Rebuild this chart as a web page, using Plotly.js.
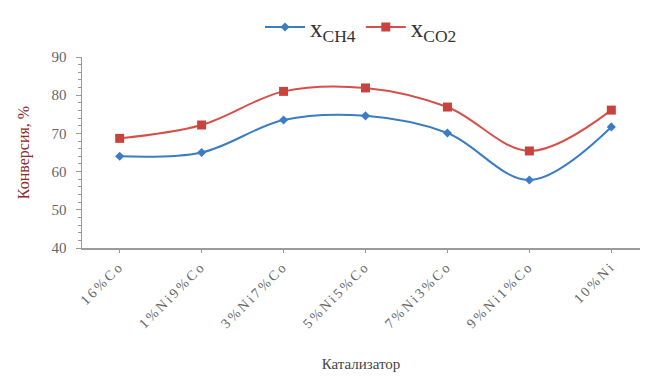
<!DOCTYPE html>
<html><head><meta charset="utf-8">
<script src="https://cdn.plot.ly/plotly-3.0.1.min.js"></script>
<style>html,body{margin:0;padding:0;background:#fff}
#chart .xtick text{letter-spacing:2.5px}</style>
</head><body><div id="chart" style="width:650px;height:377px"></div>
<script>
var categories = ["16%Co","1%Ni9%Co","3%Ni7%Co","5%Ni5%Co","7%Ni3%Co","9%Ni1%Co","10%Ni"];
var xCH4 = [64, 65, 73.5, 74.6, 70.1, 57.8, 71.7];
var xCO2 = [68.7, 72.2, 81, 81.9, 76.9, 65.4, 76.1];
var seriesNames = ["x<sub>CH4</sub>", "x<sub>CO2</sub>"];
var xTitle = "Катализатор";
var yTitle = "Конверсия, %";

var serif = "Liberation Serif, DejaVu Serif, serif";
var traces = [
  {x: categories, y: xCH4, name: seriesNames[0], type: 'scatter', mode: 'lines+markers',
   line: {color: '#3a7dc2', width: 2, shape: 'spline', smoothing: 1},
   marker: {symbol: 'diamond', size: 7, color: '#3a7dc2'}},
  {x: categories, y: xCO2, name: seriesNames[1], type: 'scatter', mode: 'lines+markers',
   line: {color: '#d6504a', width: 2, shape: 'spline', smoothing: 1},
   marker: {symbol: 'square', size: 9, color: '#c9433e'}}
];
var layout = {
  width: 650, height: 377,
  margin: {l: 82, r: 10, t: 57, b: 129, autoexpand: false},
  paper_bgcolor: '#fff', plot_bgcolor: '#fff',
  showlegend: true,
  legend: {orientation: 'h', x: 0.5, xanchor: 'center', y: 1.035, yanchor: 'bottom',
           font: {family: serif, size: 25, color: '#333'}, itemwidth: 40, tracegroupgap: 0},
  xaxis: {type: 'category', range: [-0.46, 6.35], showgrid: false, zeroline: false,
          showline: true, linecolor: '#9a9a9a', linewidth: 1.5, automargin: false,
          ticks: 'outside', ticklen: 3, tickcolor: '#9a9a9a', tickangle: -45,
          tickfont: {family: serif, size: 14, color: '#666'},
          title: {text: xTitle, font: {family: serif, size: 15, color: '#444'}, standoff: 42}},
  yaxis: {range: [40, 90], dtick: 10, showgrid: false, zeroline: false,
          showline: true, linecolor: '#9a9a9a', linewidth: 1.5, automargin: false,
          ticks: 'outside', ticklen: 5, tickcolor: '#9a9a9a', ticklabelstandoff: 6,
          minor: {dtick: 2, ticks: 'outside', ticklen: 3, tickcolor: '#9a9a9a', showgrid: false},
          tickfont: {family: serif, size: 15, color: '#666'},
          title: {text: yTitle, font: {family: serif, size: 16, color: '#8a2a2a'}, standoff: 18}}
};
Plotly.newPlot('chart', traces, layout, {displayModeBar: false, staticPlot: true});
</script></body></html>
